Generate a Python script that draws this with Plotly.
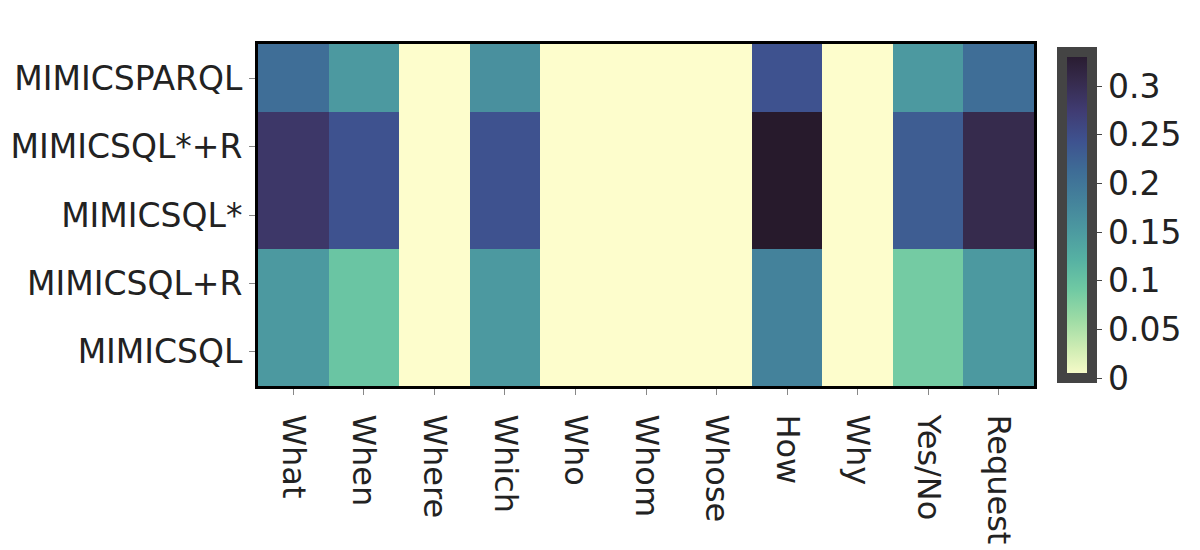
import plotly.graph_objects as go

question_types = ["What", "When", "Where", "Which", "Who", "Whom", "Whose", "How", "Why", "Yes/No", "Request"]
datasets = ["MIMICSQL", "MIMICSQL+R", "MIMICSQL*", "MIMICSQL*+R", "MIMICSPARQL"]

mimicsql = [0.152, 0.097, 0.0, 0.152, 0.0, 0.0, 0.0, 0.183, 0.0, 0.088, 0.152]
mimicsql_r = [0.152, 0.097, 0.0, 0.152, 0.0, 0.0, 0.0, 0.183, 0.0, 0.088, 0.152]
mimicsql_star = [0.283, 0.244, 0.0, 0.244, 0.0, 0.0, 0.0, 0.335, 0.0, 0.231, 0.3045]
mimicsql_star_r = [0.283, 0.244, 0.0, 0.244, 0.0, 0.0, 0.0, 0.335, 0.0, 0.231, 0.3045]
mimicsparql = [0.21, 0.152, 0.0, 0.164, 0.0, 0.0, 0.0, 0.244, 0.0, 0.152, 0.21]

z = [mimicsql, mimicsql_r, mimicsql_star, mimicsql_star_r, mimicsparql]

font = "DejaVu Sans"
x_size = 32
y_size = 33
cb_size = 33

fig = go.Figure(go.Heatmap(
    z=z, x=question_types, y=datasets,
    colorscale="deep", zmin=0,
    colorbar=dict(
        thickness=30, outlinewidth=10, outlinecolor="#444",
        lenmode="pixels", len=346, x=1.0, xanchor="left", xpad=28,
        y=0.5, yanchor="middle",
        ticks="outside", ticklen=5, tickcolor="#444",
        tickvals=[0, 0.05, 0.1, 0.15, 0.2, 0.25, 0.3],
        ticktext=["0", "0.05", "0.1", "0.15", "0.2", "0.25", "0.3"],
        tickfont=dict(family=font, size=cb_size, color="#222"),
    ),
))

fig.update_layout(
    width=1200, height=550,
    margin=dict(l=250, r=174, t=36, b=172, autoexpand=False),
    paper_bgcolor="white", plot_bgcolor="white",
    font=dict(family=font, size=x_size, color="#222"),
)
fig.update_xaxes(
    automargin=False,
    tickangle=90, ticks="outside", ticklen=6, tickcolor="#888",
    ticklabelstandoff=13,
    showline=True, linecolor="black", linewidth=3, mirror=True,
    tickfont=dict(family=font, size=x_size, color="#222"),
)
fig.update_yaxes(
    automargin=False,
    ticks="outside", ticklen=6, tickcolor="#888",
    showline=True, linecolor="black", linewidth=3, mirror=True,
    tickfont=dict(family=font, size=y_size, color="#222"),
)

fig.write_html("out.html")
